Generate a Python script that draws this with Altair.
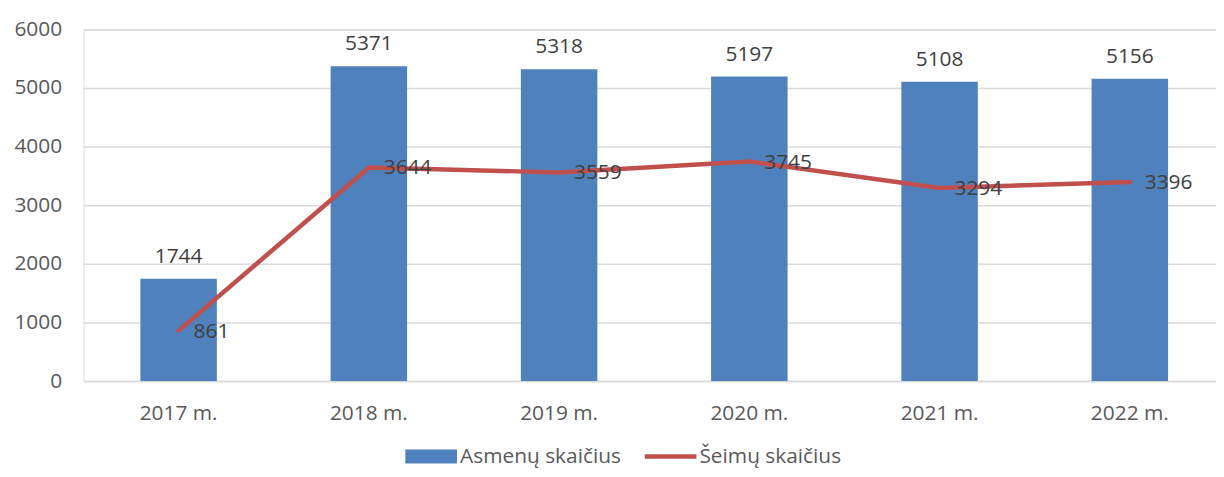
import altair as alt
import pandas as pd

years = ["2017 m.", "2018 m.", "2019 m.", "2020 m.", "2021 m.", "2022 m."]
asmenu = [1744, 5371, 5318, 5197, 5108, 5156]
seimu = [861, 3644, 3559, 3745, 3294, 3396]
series_names = ["Asmenų skaičius", "Šeimų skaičius"]
y_ticks = [0, 1000, 2000, 3000, 4000, 5000, 6000]

FONT = "Open Sans"
BLUE = "#4f81bd"
RED = "#c0504d"
FS = 21

df_bar = pd.DataFrame({"year": years, "value": asmenu, "series": series_names[0]})
df_line = pd.DataFrame({"year": years, "value": seimu, "series": series_names[1]})
df_all = pd.concat([df_bar, df_line])

x_scale = alt.Scale(type="band", domain=years, paddingInner=0.598,
                    paddingOuter=0.299, range=[0, 1149])
x_enc = alt.X("year:N", sort=years, title=None, scale=x_scale,
              axis=alt.Axis(labelAngle=0, labelFont=FONT, labelFontSize=FS,
                            labelColor="#595959", labelPadding=22, ticks=False,
                            domain=True, domainColor="#d9d9d9", domainWidth=1.5,
                            grid=False))
y_scale = alt.Scale(domain=[0, 6000], nice=False)
y_enc = alt.Y("value:Q", title=None, scale=y_scale,
              axis=alt.Axis(values=y_ticks, format="d", labelFont=FONT, labelFontSize=FS,
                            labelColor="#595959", labelPadding=22, ticks=False,
                            domain=False, grid=True, gridColor="#d9d9d9",
                            gridWidth=1.5))

bars = alt.Chart(df_bar).mark_bar(color=BLUE).encode(x=x_enc, y=y_enc)
bar_text = alt.Chart(df_bar).mark_text(font=FONT, fontSize=FS, color="#404040",
                                       baseline="middle", dy=-22).encode(
    x=x_enc, y=y_enc, text="value:Q")

line = alt.Chart(df_line).mark_line(color=RED, strokeWidth=4.5, strokeCap="round",
                                    strokeJoin="round").encode(x=x_enc, y=y_enc)
line_text = alt.Chart(df_line).mark_text(font=FONT, fontSize=FS, color="#404040",
                                         baseline="middle", align="left", dx=15, dy=1).encode(
    x=x_enc, y=y_enc, text="value:Q")

legend = alt.Legend(
    title=None, orient="none", direction="horizontal",
    legendX=324, legendY=404,
    labelFont=FONT, labelFontSize=FS, labelColor="#595959", labelLimit=400,
    symbolSize=2704, symbolStrokeWidth=0, labelOffset=3, columnPadding=24,
    symbolOpacity=1, padding=0,
)
legend_pts = alt.Chart(df_all).mark_point(filled=True, opacity=0, size=1).encode(
    x=alt.value(0), y=alt.value(0),
    color=alt.Color("series:N", scale=alt.Scale(domain=series_names, range=[BLUE, RED]),
                    legend=legend),
    shape=alt.Shape("series:N", scale=alt.Scale(
        domain=series_names,
        range=["M-1,-0.27H1V0.27H-1Z", "M-1,-0.087H1V0.087H-1Z"]), legend=legend),
)

chart = alt.layer(bars, line, bar_text, line_text, legend_pts).properties(
    width=1140, height=354,
    autosize=alt.AutoSizeParams(type="none"),
    padding={"left": 76, "top": 20, "right": 0, "bottom": 87},
).configure_view(stroke=None).configure(background="white")

chart.save("out.html", embed_options={"renderer": "svg", "actions": False})
